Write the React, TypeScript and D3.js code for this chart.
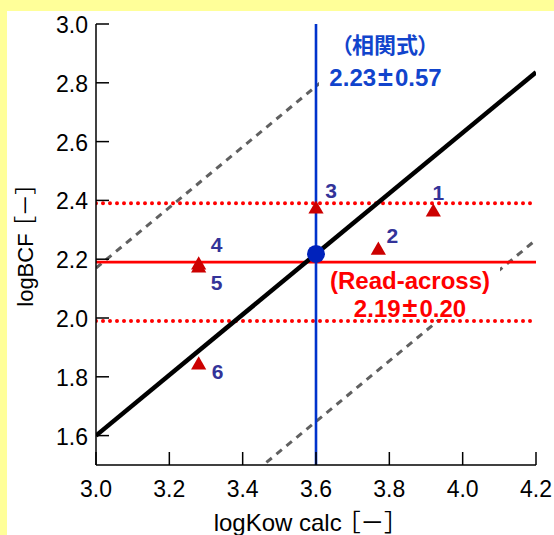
import { useMemo } from 'react';
import * as d3 from 'd3';

// logKow calc vs logBCF, read-across comparison
const pointIds = ['1', '2', '3', '4', '5', '6'];
const pointLogKow = [3.92, 3.77, 3.6, 3.28, 3.28, 3.28];
const pointLogBCF = [2.36, 2.23, 2.37, 2.18, 2.17, 1.84];

const xTicks = [3.0, 3.2, 3.4, 3.6, 3.8, 4.0, 4.2];
const yTicks = [1.6, 1.8, 2.0, 2.2, 2.4, 2.6, 2.8, 3.0];

// correlation equation logBCF = slope * logKow + intercept
const regSlope = 1.03;
const regIntercept = -1.49;
const regRange = 0.57;
const targetLogKow = 3.6;

// read-across mean +/- range
const readAcrossMean = 2.19;
const readAcrossRange = 0.2;

// label offsets (px) for point numbers
const labelOffsets: [number, number][] = [
  [5, -12], [14, -7], [15, -11], [18, -13], [18, 22], [19, 14],
];

const W = 554;
const H = 535;
const margin = { left: 96, right: 18, top: 24, bottom: 70 };

const FONT = '"Liberation Sans", Arial, "Noto Sans CJK JP", sans-serif';

// "a±b" with a wider plus-minus sign, like the full-width one in the original
function PlusMinus({ a, b }: { a: string; b: string }) {
  return (
    <>
      {a}
      <tspan dx={2} fontSize={27}>±</tspan>
      <tspan dx={2}>{b}</tspan>
    </>
  );
}

export default function App() {
  const x = useMemo(
    () => d3.scaleLinear().domain([3.0, 4.2]).range([margin.left, W - margin.right]),
    []
  );
  const y = useMemo(
    () => d3.scaleLinear().domain([1.5, 3.0]).range([H - margin.bottom, margin.top]),
    []
  );

  const reg = (k: number) => regSlope * k + regIntercept;
  const line = d3
    .line<[number, number]>()
    .x((d) => x(d[0]))
    .y((d) => y(d[1]));

  const [x0, x1] = x.domain();
  const [y0, y1] = y.domain();
  const regLine = line([[x0, reg(x0)], [x1, reg(x1)]]) || '';
  const upper = line([[x0, reg(x0) + regRange], [x1, reg(x1) + regRange]]) || '';
  const lower = line([[x0, reg(x0) - regRange], [x1, reg(x1) - regRange]]) || '';

  const tri = d3.symbol().type(d3.symbolTriangle).size(100)() || '';

  const pts = pointIds.map((id, i) => ({
    id,
    cx: x(pointLogKow[i]),
    cy: y(pointLogBCF[i]),
    off: labelOffsets[i],
  }));

  const px0 = x(x0);
  const px1 = x(x1);
  const py0 = y(y0);
  const py1 = y(y1);

  return (
    <svg
      width={W}
      height={H}
      style={{ position: 'absolute', left: 0, top: 0, fontFamily: FONT }}
    >
      <rect x={0} y={0} width={W} height={H} fill="#FFFF99" />
      <rect x={7} y={11} width={W - 7} height={H - 11} fill="#FFFFFF" />

      <defs>
        <clipPath id="plot">
          <rect x={px0} y={py1} width={px1 - px0} height={py0 - py1} />
        </clipPath>
      </defs>

      <g clipPath="url(#plot)">
        <path d={upper} fill="none" stroke="#606060" strokeWidth={3} strokeDasharray="7,6" />
        <path d={lower} fill="none" stroke="#606060" strokeWidth={3} strokeDasharray="7,6" />
      </g>

      {/* white boxes behind the annotation text */}
      <rect x={319} y={20} width={130} height={74} fill="#FFFFFF" />
      <rect x={322} y={266} width={178} height={53} fill="#FFFFFF" />

      <g clipPath="url(#plot)">
        <line
          x1={px0} x2={px1}
          y1={y(readAcrossMean + readAcrossRange)} y2={y(readAcrossMean + readAcrossRange)}
          stroke="#FF0000" strokeWidth={4} strokeDasharray="0,7" strokeLinecap="round"
        />
        <line
          x1={px0} x2={px1}
          y1={y(readAcrossMean - readAcrossRange)} y2={y(readAcrossMean - readAcrossRange)}
          stroke="#FF0000" strokeWidth={4} strokeDasharray="0,7" strokeLinecap="round"
        />
        <line
          x1={px0} x2={px1}
          y1={y(readAcrossMean)} y2={y(readAcrossMean)}
          stroke="#FF0000" strokeWidth={2.6}
        />
        <path d={regLine} fill="none" stroke="#000000" strokeWidth={4.5} />
        <line
          x1={x(targetLogKow)} x2={x(targetLogKow)}
          y1={py0} y2={py1}
          stroke="#0033CC" strokeWidth={2.6}
        />
      </g>

      {/* axes */}
      <g stroke="#000" strokeWidth={1.5} fill="none">
        <line x1={px0} x2={px0} y1={py1} y2={py0} />
        <line x1={px0} x2={px1} y1={py0} y2={py0} />
        {yTicks.map((t, i) => (
          <line key={'yt' + i} x1={px0} x2={px0 + 13} y1={y(t)} y2={y(t)} />
        ))}
        {xTicks.map((t, i) => (
          <line key={'xt' + i} x1={x(t)} x2={x(t)} y1={py0} y2={py0 - 13} />
        ))}
      </g>
      {yTicks.map((t, i) => (
        <text key={'yl' + i} x={px0 - 8} y={y(t) + 9} textAnchor="end" fontSize={23} fill="#000">
          {t.toFixed(1)}
        </text>
      ))}
      {xTicks.map((t, i) => (
        <text key={'xl' + i} x={x(t)} y={py0 + 32} textAnchor="middle" fontSize={23} fill="#000">
          {t.toFixed(1)}
        </text>
      ))}
      <text
        x={305}
        y={531}
        textAnchor="middle"
        fontSize={24}
        fill="#000"
        style={{ fontFeatureSettings: '"palt"' }}
      >
        logKow calc ［－］
      </text>
      <text
        transform={`translate(33, 245) rotate(-90)`}
        textAnchor="middle"
        fontSize={22}
        fill="#000"
        style={{ fontFeatureSettings: '"palt"' }}
      >
        logBCF ［－］
      </text>

      {/* points */}
      {pts.map((p) => (
        <path key={'p' + p.id} d={tri} transform={`translate(${p.cx},${p.cy})`} fill="#CC0000" />
      ))}
      {pts.map((p) => (
        <text
          key={'l' + p.id}
          x={p.cx + p.off[0]}
          y={p.cy + p.off[1]}
          textAnchor="middle"
          fontSize={21}
          fontWeight="bold"
          fill="#333399"
        >
          {p.id}
        </text>
      ))}
      <circle cx={x(targetLogKow)} cy={y(reg(targetLogKow))} r={9} fill="#0022BB" />

      {/* annotations */}
      <text
        x={385}
        y={53}
        textAnchor="middle"
        fontSize={22}
        fontWeight="bold"
        fill="#1144CC"
        style={{ fontFeatureSettings: '"palt"', fontFamily: '"Noto Sans CJK JP", sans-serif' }}
      >
        （相関式）
      </text>
      <text x={385.5} y={86} textAnchor="middle" fontSize={24} fontWeight="bold" fill="#1144CC">
        <PlusMinus a="2.23" b="0.57" />
      </text>
      <text x={410} y={289} textAnchor="middle" fontSize={24} fontWeight="bold" fill="#FF0000">
        (Read-across)
      </text>
      <text x={410} y={317} textAnchor="middle" fontSize={24} fontWeight="bold" fill="#FF0000">
        <PlusMinus a="2.19" b="0.20" />
      </text>
    </svg>
  );
}
